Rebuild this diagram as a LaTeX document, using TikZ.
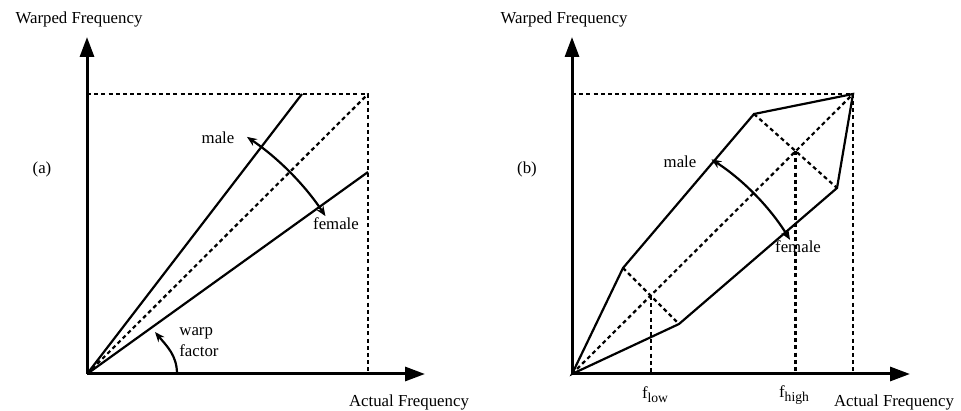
\documentclass[tikz,border=0pt]{standalone}
\usepackage{fontspec}
\setmainfont{Liberation Serif}
\usetikzlibrary{arrows.meta, calc}
\newcommand{\lowsub}[1]{\raisebox{-0.5ex}{\fontsize{6.8}{7}\selectfont #1}}
\tikzset{
	axisline/.style={line width=1.5pt, -{Triangle[length=10pt, width=7pt]}},
	warpline/.style={line width=1.1pt},
	guide/.style={line width=1.1pt, dash pattern=on 2pt off 1.6pt},
	swing/.style={line width=1.1pt, {Stealth[length=5pt, width=4pt]}-{Stealth[length=5pt, width=4pt]}},
	lift/.style={line width=1.1pt, -{Stealth[length=5pt, width=4pt]}},
	lbl/.style={font=\fontsize{8.4}{10.5}\selectfont, inner sep=0pt},
}
\begin{document}
\begin{tikzpicture}[x=0.5pt, y=0.5pt]
	\useasboundingbox (0,0) rectangle (961,411);
	% axes and titles of both panels
	\foreach \p/\ox in {a/87, b/572} {
		\coordinate (o\p) at (\ox,37);
		\coordinate (y\p) at (\ox,374);
		\coordinate (x\p) at (\ox+338,37);
		\draw[axisline] (o\p) -- (y\p);
		\draw[axisline] (o\p) -- (x\p);
		\node[lbl] (wf\p) at ($(o\p)+(-8,355)$) {Warped Frequency};
		\node[lbl] (af\p) at ($(o\p)+(322,-28)$) {Actual Frequency};
		\node[lbl] (tag\p) at ($(o\p)+(-45,205)$) {(\p)};
	}
	% panel (a)
	\coordinate (ca) at (368,317);
	\coordinate (ma) at (302,317);
	\coordinate (fa) at (368,239);
	\draw[guide] (oa |- ca) -- (ca) -- (ca |- oa);
	\draw[guide] (oa) -- (ca);
	\draw[warpline] (oa) -- (ma);
	\draw[warpline] (oa) -- (fa);
	\draw[swing] ([shift={(56:286)}]oa) arc[start angle=56, end angle=33.5, radius=286];
	\node[lbl] (malea) at (218,273) {male};
	\node[lbl] (femalea) at (336,187) {female};
	\coordinate (wa) at (177,37);
	\coordinate (wb) at (155,79);
	\draw[lift] (wa) to[out=90, in=-50] (wb);
	\node[lbl, anchor=west, align=left] (warp) at (179,69) {warp\\factor};
	% panel (b)
	\coordinate (cb) at (853,317);
	\coordinate (u1) at (623,143);
	\coordinate (u2) at (754,297);
	\coordinate (l1) at (679,87);
	\coordinate (l2) at (837,223);
	\coordinate (pl) at ($(u1)!0.5!(l1)$);
	\coordinate (ph) at ($(u2)!0.5!(l2)$);
	\draw[guide] (ob |- cb) -- (cb) -- (cb |- ob);
	\draw[guide] (ob) -- (cb);
	\draw[guide] (u1) -- (l1);
	\draw[guide] (u2) -- (l2);
	\draw[guide] (pl) -- (pl |- ob);
	\draw[guide] (ph) -- (ph |- ob);
	\draw[warpline] (ob) -- (u1) -- (u2) -- (cb) -- (l2) -- (l1) -- cycle;
	\draw[swing] ([shift={(57:256)}]ob) arc[start angle=57, end angle=31.6, radius=256];
	\node[lbl] (maleb) at (680,249) {male};
	\node[lbl] (femaleb) at (798,164) {female};
	\node[lbl] (flow) at (655,16) {f\lowsub{low}};
	\node[lbl] (fhigh) at (794,16) {f\lowsub{high}};
\end{tikzpicture}
\end{document}
